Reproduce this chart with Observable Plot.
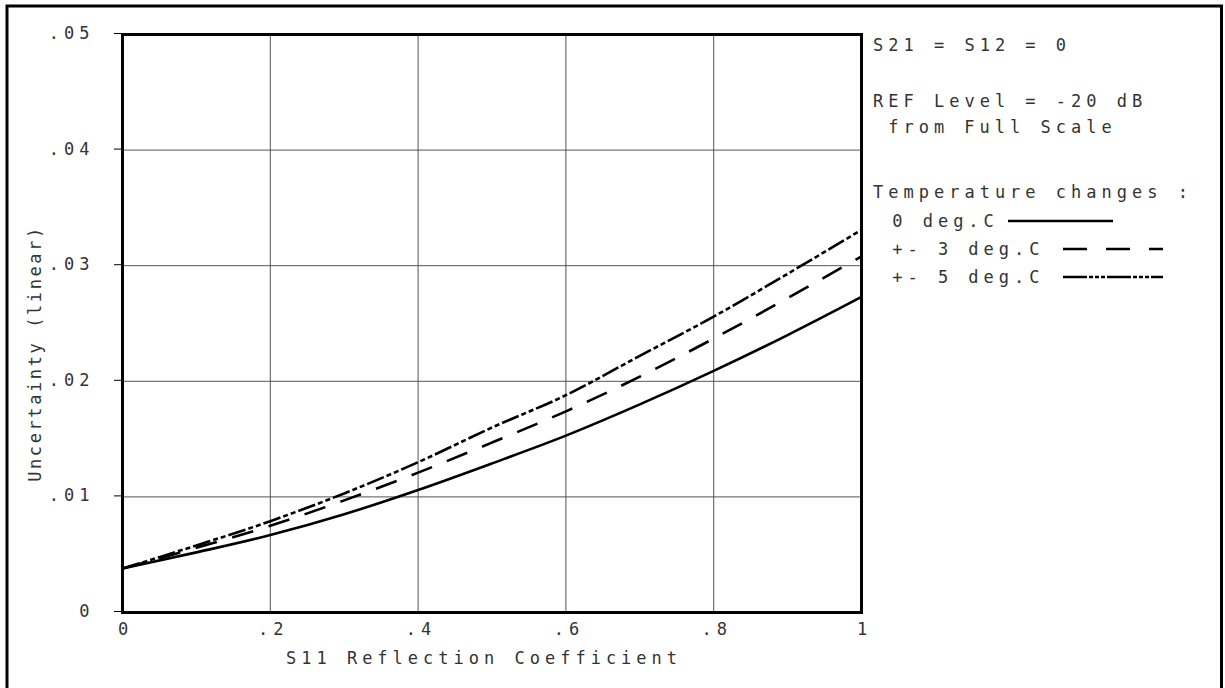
<!DOCTYPE html>
<html><head><meta charset="utf-8">
<script src="https://cdn.jsdelivr.net/npm/d3@7"></script>
<script src="https://cdn.jsdelivr.net/npm/@observablehq/plot@0.6"></script>
<style>
html,body{margin:0;padding:0;background:#fff;}
#chart{position:relative;width:1225px;height:688px;overflow:hidden;}
#chart svg text{letter-spacing:5px;}
#chart svg g.ylab text{letter-spacing:2.6px;}
</style></head><body><div id="chart"></div>
<script>
// ---- data ----
const s11 = [0, 0.1, 0.2, 0.3, 0.4, 0.5, 0.6, 0.7, 0.8, 0.9, 1.0];
const temp0 = [0.0038, 0.0052, 0.0067, 0.0085, 0.0106, 0.0129, 0.0153, 0.0180, 0.0209, 0.0240, 0.0273];
const temp3 = [0.0038, 0.0056, 0.0075, 0.0097, 0.0121, 0.0147, 0.0174, 0.0204, 0.0237, 0.0272, 0.0308];
const temp5 = [0.0038, 0.0058, 0.0079, 0.0103, 0.0130, 0.0160, 0.0188, 0.0222, 0.0256, 0.0293, 0.0331];
const seriesNames = ["0 deg.C", "+- 3 deg.C", "+- 5 deg.C"];
const xTicks = [0, 0.2, 0.4, 0.6, 0.8, 1];
const yTicks = [0, 0.01, 0.02, 0.03, 0.04, 0.05];
const xLabel = "S11 Reflection Coefficient";
const yLabel = "Uncertainty (linear)";
const notes = ["S21 = S12 = 0", "REF Level = -20 dB", "from Full Scale", "Temperature changes :"];

const FONT = "'DejaVu Sans Mono', 'Liberation Mono', monospace";
const FS = 17;
const INK = "#333";
const dashes = ["none", "22,16", "18,3,5,3,5,3"];

const rows = [];
[temp0, temp3, temp5].forEach((arr, k) => arr.forEach((v, i) => rows.push({x: s11[i], y: v, s: seriesNames[k]})));

const fmt = d => d === 0 ? "0" : d === 1 ? "1" : String(+d.toFixed(2)).replace(/^0/, "");

const chart = Plot.plot({
  width: 1225, height: 688,
  marginLeft: 122, marginRight: 364, marginTop: 34, marginBottom: 76,
  style: {fontFamily: FONT, fontSize: FS + "px", background: "#fff", color: "#111", overflow: "visible"},
  x: {domain: [0, 1]},
  y: {domain: [0, 0.05]},
  marks: [
    Plot.gridX(xTicks, {stroke: "#555", strokeOpacity: 1, strokeWidth: 1}),
    Plot.gridY(yTicks, {stroke: "#555", strokeOpacity: 1, strokeWidth: 1}),
    Plot.axisY(yTicks, {tickSize: 8, tickFormat: fmt, tickPadding: 20, label: null, stroke: "#000", fill: INK, fontSize: FS, dy: -1}),
    Plot.axisX(xTicks, {tickSize: 0, tickFormat: fmt, tickPadding: 10, label: null, fill: INK, fontSize: FS, dx: 3}),
    ...seriesNames.map((name, k) => Plot.line(rows.filter(r => r.s === name), {
      x: "x", y: "y", curve: "monotone-x", stroke: "#000", strokeWidth: 2.6,
      strokeDasharray: dashes[k], strokeLinecap: "butt"
    })),
    Plot.frame({stroke: "#000", strokeWidth: 3}),
    Plot.text([xLabel], {frameAnchor: "bottom", textAnchor: "middle", dx: -8, dy: 51, fill: INK, fontSize: FS}),
    Plot.text([yLabel], {frameAnchor: "left", textAnchor: "middle", rotate: -90, dx: -87, dy: 30, fill: INK, fontSize: FS, className: "ylab"})
  ]
});
document.getElementById("chart").appendChild(chart);

// ---- annotations and legend in the right margin ----
const svg = d3.select(chart);
svg.selectAll("g[aria-label=text]").filter(function() { return this.textContent === yLabel; }).classed("ylab", true);
const ann = svg.append("g").attr("font-family", FONT).attr("font-size", FS).attr("fill", INK).attr("text-anchor", "start");
const charW = 15.2;
const noteY = [45, 101, 127, 192];
const noteX = [873, 873, 873 + charW, 873];
notes.forEach((t, i) => ann.append("text").attr("x", noteX[i]).attr("y", noteY[i]).attr("dy", "0.36em").text(t));

const legY = [221, 249, 277];
const legLine = [[1008, 1113], [1063, 1163], [1063, 1163]];
seriesNames.forEach((name, k) => {
  ann.append("text").attr("x", 873 + charW + 4).attr("y", legY[k]).attr("dy", "0.36em").text(name);
  svg.append("line")
    .attr("x1", legLine[k][0]).attr("x2", legLine[k][1])
    .attr("y1", legY[k]).attr("y2", legY[k])
    .attr("stroke", "#000").attr("stroke-width", 2.6)
    .attr("stroke-dasharray", k === 1 ? "24,19" : k === 2 ? "24,2,4,2,4,2,4,2" : null);
});

// outer border of the sheet
svg.append("path").attr("d", "M7,688 V6 H1221.5 V688").attr("fill", "none").attr("stroke", "#000").attr("stroke-width", 3);
</script></body></html>
